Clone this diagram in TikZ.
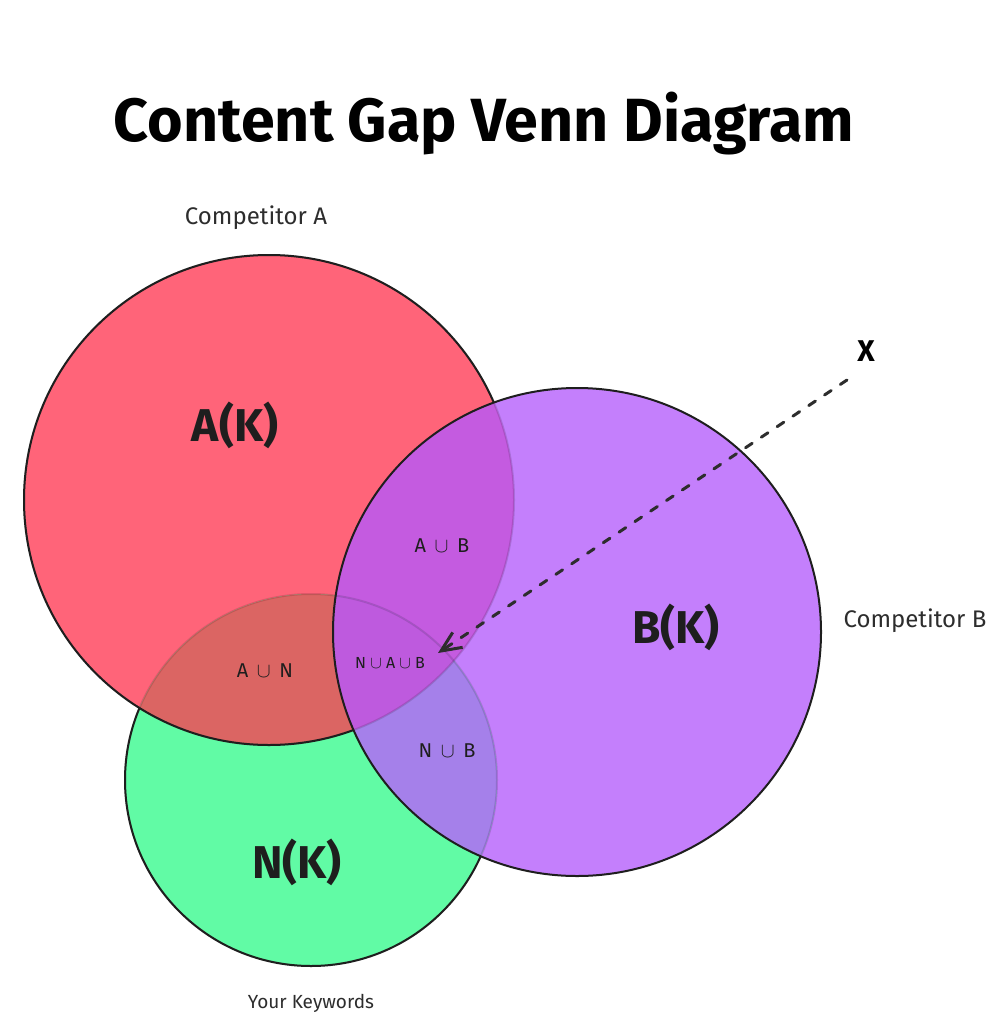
\documentclass[tikz,border=0pt]{standalone}
\usepackage{fontspec}
\setmainfont{Fira Sans}
\usetikzlibrary{arrows.meta}
\definecolor{colA}{RGB}{255,100,121}
\definecolor{colB}{RGB}{196,127,252}
\definecolor{colN}{RGB}{97,251,165}
\definecolor{colAN}{RGB}{219,101,99}
\definecolor{colAB}{RGB}{196,91,224}
\definecolor{colBN}{RGB}{165,128,234}
\definecolor{colABN}{RGB}{190,90,222}
\definecolor{ink}{RGB}{30,30,30}
\definecolor{lbl}{RGB}{45,45,45}
\def\circA{(269,500) circle[radius=245]}
\def\circB{(577,632) circle[radius=244]}
\def\circN{(311,780) circle[radius=186]}
\tikzset{
  rim/.style={draw=ink, line width=2pt},
  faintrim/.style={draw=black, draw opacity=0.13, line width=2pt},
  ttl/.style={font=\bfseries\fontsize{61}{68}\selectfont, text=black},
  side/.style={font=\fontsize{24}{27}\selectfont, text=lbl},
  setlbl/.style={font=\bfseries\fontsize{46}{52}\selectfont, text=ink},
  cut/.style={font=\fontsize{20}{23}\selectfont, text=ink},
  cutsmall/.style={font=\fontsize{16}{19}\selectfont, text=ink},
  pointer/.style={draw=lbl, line width=3pt, dash pattern=on 8pt off 11pt, line cap=round, -{Straight Barb[length=20pt,width=18pt]}}
}
\begin{document}
\begin{tikzpicture}[x=1pt,y=-1pt]
\useasboundingbox[fill=white] (0,0) rectangle (993,1024);
% base fills
\fill[colA] \circA;
\fill[colB] \circB;
\fill[colN] \circN;
% overlaps
\begin{scope}\clip \circA; \fill[colAN] \circN;\end{scope}
\begin{scope}\clip \circA; \fill[colAB] \circB;\end{scope}
\begin{scope}\clip \circB; \fill[colBN] \circN;\end{scope}
\begin{scope}\clip \circA; \clip \circB; \fill[colABN] \circN;\end{scope}
% faint rims (seen through upper circles)
\path[faintrim] \circN;
\path[faintrim] \circA;
% dark rims
\begin{scope}[even odd rule]
  \clip (-20,-20) rectangle (1020,1050) \circA;
  \clip (-20,-20) rectangle (1020,1050) \circB;
  \path[rim] \circN;
\end{scope}
\begin{scope}[even odd rule]
  \clip (-20,-20) rectangle (1020,1050) \circB;
  \path[rim] \circA;
\end{scope}
\path[rim] \circB;
% texts
\node[ttl] (title) at (484,124) {Content Gap Venn Diagram};
\node[side] (capA) at (256,218) {Competitor A};
\node[side] (capB) at (915,621) {Competitor B};
\node[font=\fontsize{19}{22}\selectfont, text=lbl] (capN) at (311,1003) {Your Keywords};
\node[setlbl] (lblA) at (235,425) {A(K)};
\node[setlbl] (lblB) at (676,627) {B(K)};
\node[setlbl] (lblN) at (297,862) {N(K)};
\node[cut] (ab) at (442,546) {A\ \,$\cup$\ \,B};
\node[cut] (an) at (265,671) {A\ \,$\cup$\ \,N};
\node[cutsmall] (nab) at (390,663) {N\ $\cup$\ A\ $\cup$\ B};
\node[cut] (nb) at (447,751) {N\ \,$\cup$\ \,B};
\node[font=\bfseries\fontsize{30}{34}\selectfont, text=black] (xmark) at (866,351) {X};
% pointer
\coordinate (pstart) at (847,380);
\coordinate (ptip) at (438,653);
\draw[pointer] (pstart) -- (ptip);
\end{tikzpicture}
\end{document}
